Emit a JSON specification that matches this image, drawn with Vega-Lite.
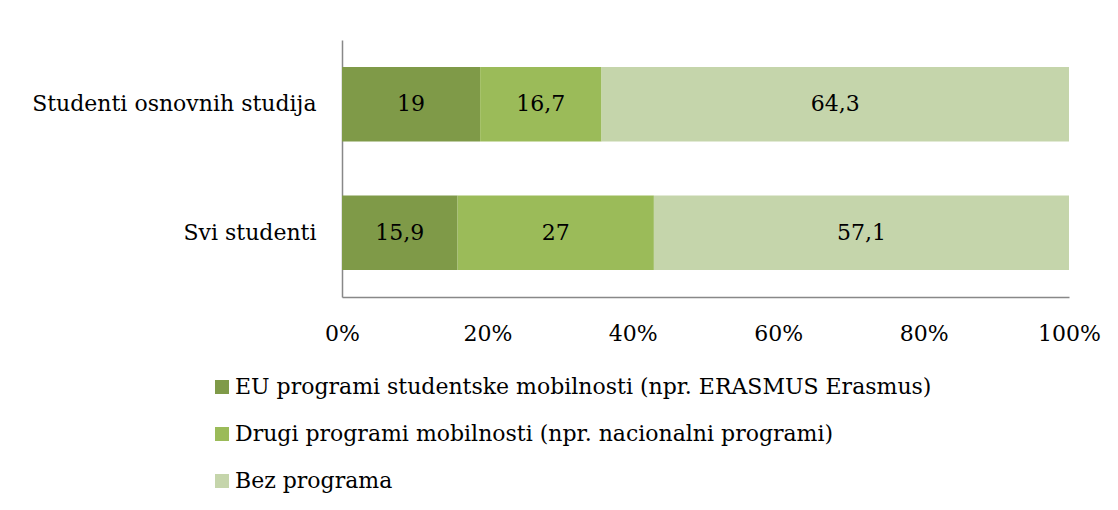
{
  "$schema": "https://vega.github.io/schema/vega-lite/v6.json",
  "width": 727,
  "height": 257,
  "autosize": {"type": "none"},
  "padding": {"left": 342, "top": 40, "right": 49, "bottom": 213},
  "background": "white",
  "config": {
    "view": {"stroke": null},
    "font": "DejaVu Serif",
    "axis": {"labelFont": "DejaVu Serif", "labelColor": "black", "labelFontSize": 22, "domainColor": "#888888", "domainWidth": 1.5, "ticks": false, "grid": false, "title": null, "labelLimit": 1000},
    "legend": {"labelFont": "DejaVu Serif", "labelColor": "black", "labelFontSize": 22, "padding": 0}
  },
  "data": {
    "values": [
      {"group": "Studenti osnovnih studija", "cat": "EU programi studentske mobilnosti (npr. ERASMUS Erasmus)", "ord": 1, "value": 19, "label": "19"},
      {"group": "Studenti osnovnih studija", "cat": "Drugi programi mobilnosti (npr. nacionalni programi)", "ord": 2, "value": 16.7, "label": "16,7"},
      {"group": "Studenti osnovnih studija", "cat": "Bez programa", "ord": 3, "value": 64.3, "label": "64,3"},
      {"group": "Svi studenti", "cat": "EU programi studentske mobilnosti (npr. ERASMUS Erasmus)", "ord": 1, "value": 15.9, "label": "15,9"},
      {"group": "Svi studenti", "cat": "Drugi programi mobilnosti (npr. nacionalni programi)", "ord": 2, "value": 27, "label": "27"},
      {"group": "Svi studenti", "cat": "Bez programa", "ord": 3, "value": 57.1, "label": "57,1"}
    ]
  },
  "transform": [
    {"stack": "value", "groupby": ["group"], "sort": [{"field": "ord"}], "offset": "normalize", "as": ["x0", "x1"]},
    {"calculate": "(datum.x0 + datum.x1) / 2", "as": "mid"}
  ],
  "encoding": {
    "y": {
      "field": "group", "type": "nominal",
      "sort": ["Studenti osnovnih studija", "Svi studenti"],
      "scale": {"paddingInner": 0.42, "paddingOuter": 0.21},
      "axis": {"labelPadding": 26, "domainColor": "#888888"}
    }
  },
  "layer": [
    {
      "mark": {"type": "bar"},
      "encoding": {
        "x": {"field": "x0", "type": "quantitative", "scale": {"domain": [0, 1], "nice": false},
              "axis": {"format": "%", "labelPadding": 26, "labelFlush": false, "values": [0, 0.2, 0.4, 0.6, 0.8, 1]}},
        "x2": {"field": "x1"},
        "color": {
          "field": "cat", "type": "nominal",
          "sort": ["EU programi studentske mobilnosti (npr. ERASMUS Erasmus)", "Drugi programi mobilnosti (npr. nacionalni programi)", "Bez programa"],
          "scale": {"domain": ["EU programi studentske mobilnosti (npr. ERASMUS Erasmus)", "Drugi programi mobilnosti (npr. nacionalni programi)", "Bez programa"], "range": ["#7F9A48", "#9BBB59", "#C5D5AB"]},
          "legend": {"title": null, "orient": "none", "legendX": -131, "legendY": 336, "direction": "vertical", "symbolType": "square", "symbolSize": 196, "symbolStrokeWidth": 0, "labelOffset": 2, "rowPadding": 25, "labelLimit": 1000}
        }
      }
    },
    {
      "mark": {"type": "text", "fontSize": 22, "color": "black", "font": "DejaVu Serif"},
      "encoding": {
        "x": {"field": "mid", "type": "quantitative"},
        "text": {"field": "label"}
      }
    }
  ]
}
